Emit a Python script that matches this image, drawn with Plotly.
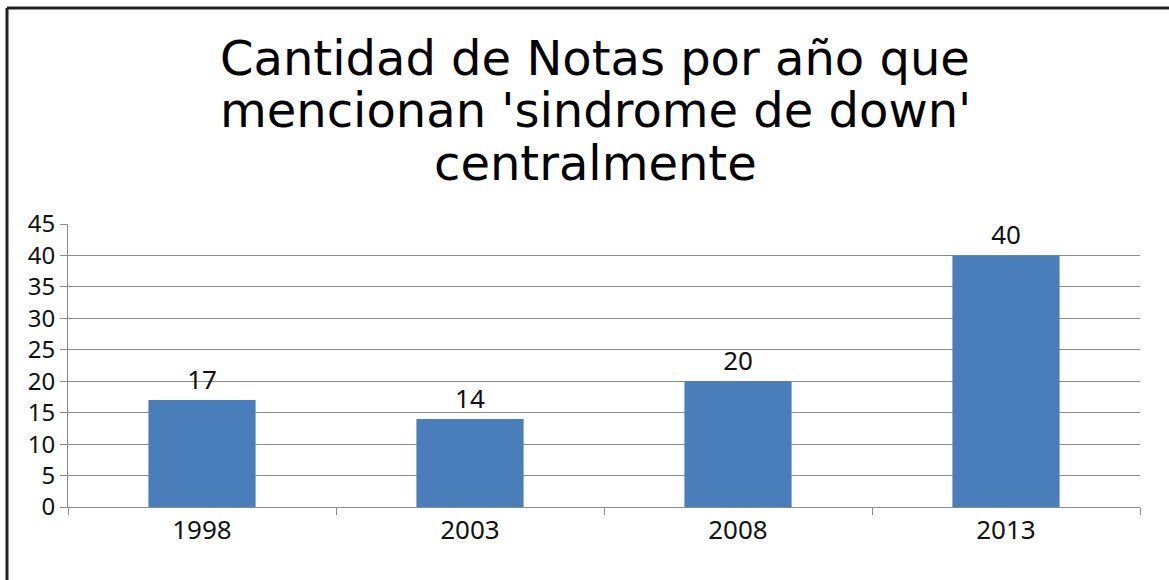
import plotly.graph_objects as go

years = ["1998", "2003", "2008", "2013"]
notas = [17, 14, 20, 40]
y_ticks = [0, 5, 10, 15, 20, 25, 30, 35, 40, 45]
title_lines = [
    "Cantidad de Notas por año que",
    "mencionan 'sindrome de down'",
    "centralmente",
]

W, H = 1169, 580
L, R, T, B = 68, 29, 224, 73
pw, ph = W - L - R, H - T - B


def px_x(px):
    return (px - L) / pw


def px_y(py):
    return (H - B - py) / ph


fig = go.Figure(
    go.Bar(
        x=years,
        y=notas,
        width=0.4,
        marker=dict(color="#4a7ebb", line=dict(width=0)),
        text=[str(v) for v in notas],
        textposition="outside",
        textfont=dict(family="Noto Sans", size=26, color="#111111"),
        cliponaxis=False,
    )
)

# Title drawn line by line for a tight line spacing
line_centers = [58, 110, 163]
annotations = [
    dict(
        text=txt,
        xref="paper", yref="paper",
        x=px_x(595), y=px_y(cy),
        xanchor="center", yanchor="middle",
        showarrow=False,
        font=dict(family="DejaVu Sans", size=48, color="#000000"),
    )
    for txt, cy in zip(title_lines, line_centers)
]

fig.update_layout(
    width=W,
    height=H,
    margin=dict(l=L, r=R, t=T, b=B),
    paper_bgcolor="white",
    plot_bgcolor="white",
    showlegend=False,
    bargap=0.6,
    annotations=annotations,
    xaxis=dict(
        type="category",
        showgrid=False,
        showline=True,
        linecolor="#8c8c8c",
        linewidth=1,
        ticks="outside",
        tickson="boundaries",
        ticklen=7,
        tickcolor="#8c8c8c",
        tickfont=dict(family="Noto Sans", size=26, color="#111111"),
    ),
    yaxis=dict(
        range=[0, 45],
        tickvals=y_ticks,
        showgrid=True,
        gridcolor="#8c8c8c",
        gridwidth=1,
        showline=True,
        linecolor="#8c8c8c",
        linewidth=1,
        ticks="outside",
        ticklen=7,
        tickcolor="#8c8c8c",
        zeroline=False,
        tickfont=dict(family="Noto Sans", size=24, color="#111111"),
    ),
    shapes=[
        dict(type="line", xref="paper", yref="paper",
             x0=px_x(7), x1=px_x(W + 2), y0=px_y(8), y1=px_y(8),
             line=dict(color="#222222", width=3)),
        dict(type="line", xref="paper", yref="paper",
             x0=px_x(7), x1=px_x(7), y0=px_y(8), y1=px_y(H + 2),
             line=dict(color="#222222", width=3)),
    ],
)

fig.write_html("out.html")
